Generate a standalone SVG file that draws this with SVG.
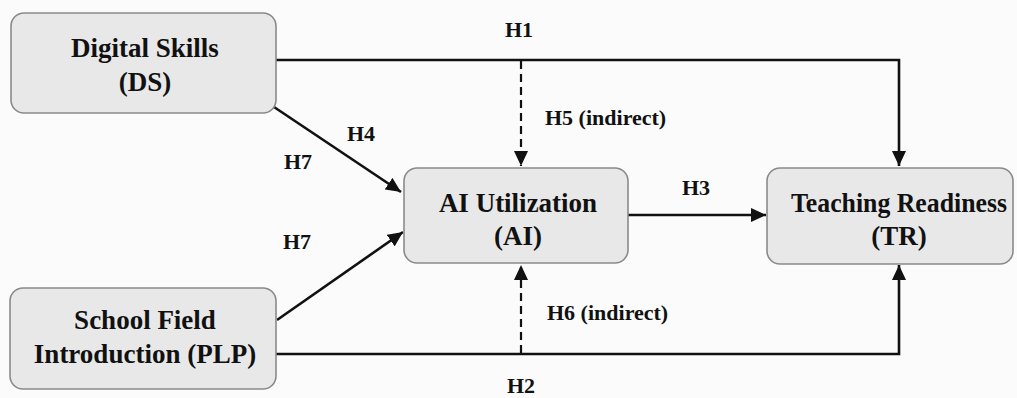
<svg xmlns="http://www.w3.org/2000/svg" width="1017" height="398" viewBox="0 0 1017 398">
<defs>
<marker id="ah" markerUnits="userSpaceOnUse" markerWidth="16" markerHeight="14" refX="15" refY="7" orient="auto">
<path d="M0,0 L15,7 L0,14 z" fill="#111"/>
</marker>
<style>
.box{fill:#e8e8e8;stroke:#8a8a8a;stroke-width:1.6}
.t{font-family:'Liberation Serif','Times New Roman','DejaVu Serif',serif;font-weight:700;font-size:27px;fill:#111;text-anchor:middle}
.l{font-family:'Liberation Serif','Times New Roman','DejaVu Serif',serif;font-weight:700;font-size:22px;fill:#111}
.c{fill:none;stroke:#111;stroke-width:2.6}
.d{fill:none;stroke:#111;stroke-width:2.2;stroke-dasharray:8 5}
</style>
</defs>
<rect width="1017" height="398" fill="#fbfbfb"/>
<g id="connectors">
<path class="c" d="M276,60 H899 V166" marker-end="url(#ah)"/>
<path class="c" d="M276,354 H899 V265" marker-end="url(#ah)"/>
<line class="d" x1="521" y1="61" x2="521" y2="166" marker-end="url(#ah)"/>
<line class="d" x1="521" y1="353" x2="521" y2="265" marker-end="url(#ah)"/>
<line class="c" x1="274" y1="107" x2="401" y2="192" marker-end="url(#ah)"/>
<line class="c" x1="277" y1="320" x2="403" y2="232" marker-end="url(#ah)"/>
<line class="c" x1="628" y1="215" x2="766" y2="215" marker-end="url(#ah)"/>
<text class="l" x="505" y="37">H1</text>
<text class="l" x="545" y="125">H5 (indirect)</text>
<text class="l" x="347" y="141">H4</text>
<text class="l" x="284" y="169">H7</text>
<text class="l" x="283" y="249">H7</text>
<text class="l" x="682" y="195">H3</text>
<text class="l" x="547" y="320">H6 (indirect)</text>
<text class="l" x="507" y="393">H2</text>
</g>
<g id="DS">
<rect class="box" x="11" y="13" width="265" height="100" rx="13"/>
<text class="t" x="145" y="57">Digital Skills</text>
<text class="t" x="145" y="91">(DS)</text>
</g>
<g id="AI">
<rect class="box" x="404" y="168" width="224" height="95" rx="13"/>
<text class="t" x="518" y="212">AI Utilization</text>
<text class="t" x="518" y="245">(AI)</text>
</g>
<g id="TR">
<rect class="box" x="767" y="168" width="246" height="96" rx="13"/>
<text class="t" x="899" y="212" textLength="216" lengthAdjust="spacingAndGlyphs">Teaching Readiness</text>
<text class="t" x="899" y="245">(TR)</text>
</g>
<g id="PLP">
<rect class="box" x="10" y="288" width="266" height="101" rx="13"/>
<text class="t" x="145" y="329">School Field</text>
<text class="t" x="145" y="363">Introduction (PLP)</text>
</g>
</svg>
